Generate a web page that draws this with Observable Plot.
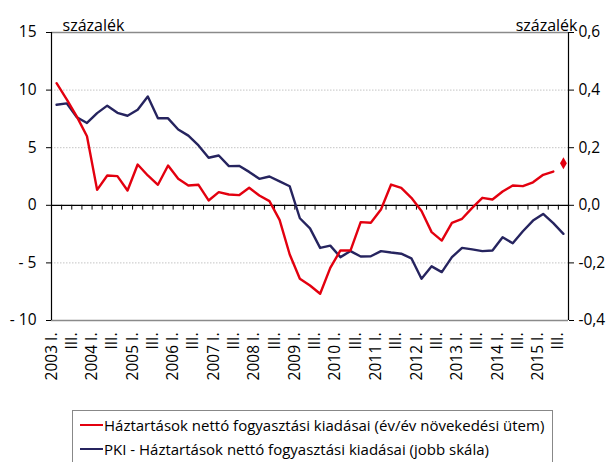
<!DOCTYPE html>
<html>
<head>
<meta charset="utf-8">
<script src="https://cdn.jsdelivr.net/npm/d3@7"></script>
<script src="https://cdn.jsdelivr.net/npm/@observablehq/plot@0.6"></script>
<style>
  html, body { margin: 0; padding: 0; background: #fff; }
  body { width: 614px; height: 462px; overflow: hidden; position: relative; font-family: "Open Sans", sans-serif; }
  #legend { position: absolute; left: 72px; top: 410px; width: 481px; height: 60px; border: 1px solid #888; box-sizing: border-box; padding: 2px 0 0 7px; font-size: 15px; color: #000; }
  .row { height: 24px; display: flex; align-items: center; white-space: nowrap; }
  .sw { width: 23px; height: 2px; margin-right: 1px; }
</style>
</head>
<body>
<div id="chart"></div>
<div id="legend"></div>
<script>
const xTickLabels = [
  "2003 I.","","III.","",
  "2004 I.","","III.","",
  "2005 I.","","III.","",
  "2006 I.","","III.","",
  "2007 I.","","III.","",
  "2008 I.","","III.","",
  "2009 I.","","III.","",
  "2010 I.","","III.","",
  "2011 I.","","III.","",
  "2012 I.","","III.","",
  "2013 I.","","III.","",
  "2014 I.","","III.","",
  "2015 I.","","III."
];
// Háztartások nettó fogyasztási kiadásai (év/év, %) – left axis
const consumption = [
  10.6, 9.2, 7.7, 6.0,
  1.34, 2.59, 2.53, 1.28,
  3.54, 2.59, 1.78, 3.45,
  2.3, 1.72, 1.78, 0.42,
  1.14, 0.94, 0.88, 1.52,
  0.85, 0.36, -1.26, -4.27,
  -6.38, -6.96, -7.68, -5.43,
  -3.92, -3.92, -1.46, -1.52,
  -0.36, 1.8, 1.52, 0.65,
  -0.5, -2.33, -3.06, -1.52,
  -1.17, -0.22, 0.65, 0.5,
  1.2, 1.72, 1.66, 2.0,
  2.65, 2.93
];
// single marker point (2015 III.)
const consumptionPointIndex = [50];
const consumptionPointValue = [3.65];
// PKI – right axis
const pki = [
  0.349, 0.354, 0.306, 0.286,
  0.32, 0.346, 0.321, 0.311,
  0.332, 0.378, 0.302, 0.302,
  0.263, 0.242, 0.208, 0.165,
  0.173, 0.136, 0.137, 0.116,
  0.092, 0.1, 0.083, 0.066,
  -0.045, -0.08, -0.148, -0.14,
  -0.18, -0.159, -0.178, -0.177,
  -0.159, -0.164, -0.168, -0.184,
  -0.255, -0.212, -0.232, -0.18,
  -0.148, -0.153, -0.159, -0.157,
  -0.111, -0.132, -0.09, -0.053,
  -0.03, -0.062, -0.099
];
const leftTicks = [15, 10, 5, 0, -5, -10];
const leftTickLabels = ["15", "10", "5", "0", "- 5", "- 10"];
const rightTickLabels = ["0,6", "0,4", "0,2", "0,0", "-0,2", "-0,4"];
const rightFactor = 0.04; // right axis value = left axis value * 0.04
const unitLabel = "százalék";
const seriesNames = [
  "Háztartások nettó fogyasztási kiadásai (év/év növekedési ütem)",
  "PKI - Háztartások nettó fogyasztási kiadásai (jobb skála)"
];
const colors = ["#e3000f", "#26245f"];

const n = xTickLabels.length;
const redData = consumption.map((v, i) => ({i, v}));
const blueData = pki.map((v, i) => ({i, v: v / rightFactor}));
const pointData = consumptionPointIndex.map((i, k) => ({i, v: consumptionPointValue[k]}));
const labelData = xTickLabels.map((t, i) => ({i, t})).filter(d => d.t);
const boundaries = d3.range(1, n).map(i => i - 0.5);
const xDomain = [-0.5, n - 0.5];
const yDomain = [-10, 15];

const font = "'Open Sans', sans-serif";
const chart = Plot.plot({
  width: 614,
  height: 405,
  marginLeft: 51,
  marginRight: 46,
  marginTop: 32,
  marginBottom: 85,
  style: {fontFamily: font, fontSize: "15px", color: "#000", background: "#fff"},
  x: {domain: xDomain, axis: null},
  y: {domain: yDomain, axis: null},
  marks: [
    Plot.ruleY([10, 5, -5], {stroke: "#c4c4c4", strokeDasharray: "1.5,1.5"}),
    Plot.ruleY([yDomain[1], yDomain[0]], {stroke: "#8a8a8a", strokeWidth: 1.6}),
    Plot.ruleX(xDomain, {stroke: "#000", strokeWidth: 1.2}),
    Plot.ruleY([0], {stroke: "#000", strokeWidth: 1.2}),
    Plot.ruleX(boundaries, {y1: 0, y2: -0.42, stroke: "#000"}),
    Plot.axisY({anchor: "left", ticks: leftTicks, tickSize: 5, tickPadding: 10, label: null,
      tickFormat: d => leftTickLabels[leftTicks.indexOf(d)], fontSize: 15.5, stroke: "#000"}),
    Plot.axisY({anchor: "right", ticks: leftTicks, tickSize: 5, tickPadding: 5, label: null,
      tickFormat: d => rightTickLabels[leftTicks.indexOf(d)], fontSize: 15.5, stroke: "#000"}),
    Plot.text(labelData, {x: "i", text: "t", frameAnchor: "bottom", rotate: -90, textAnchor: "end", dy: 12, fontSize: 15.5, fill: "#000"}),
    Plot.text([unitLabel], {frameAnchor: "top-left", textAnchor: "start", dx: 11, dy: -13, fontSize: 16, fill: "#000"}),
    Plot.text([unitLabel], {frameAnchor: "top-right", textAnchor: "end", dx: 9, dy: -13, fontSize: 16, fill: "#000"}),
    Plot.line(blueData, {x: "i", y: "v", stroke: colors[1], strokeWidth: 2.4}),
    Plot.line(redData, {x: "i", y: "v", stroke: colors[0], strokeWidth: 2.4}),
    Plot.dot(pointData, {x: "i", y: "v", symbol: "diamond", r: 3.6, fill: colors[0], stroke: "none"})
  ]
});
document.getElementById("chart").appendChild(chart);

const legend = document.getElementById("legend");
seriesNames.forEach((name, k) => {
  const row = document.createElement("div");
  row.className = "row";
  const sw = document.createElement("span");
  sw.className = "sw";
  sw.style.background = colors[k];
  const tx = document.createElement("span");
  tx.textContent = name;
  row.appendChild(sw);
  row.appendChild(tx);
  legend.appendChild(row);
});
</script>
</body>
</html>
